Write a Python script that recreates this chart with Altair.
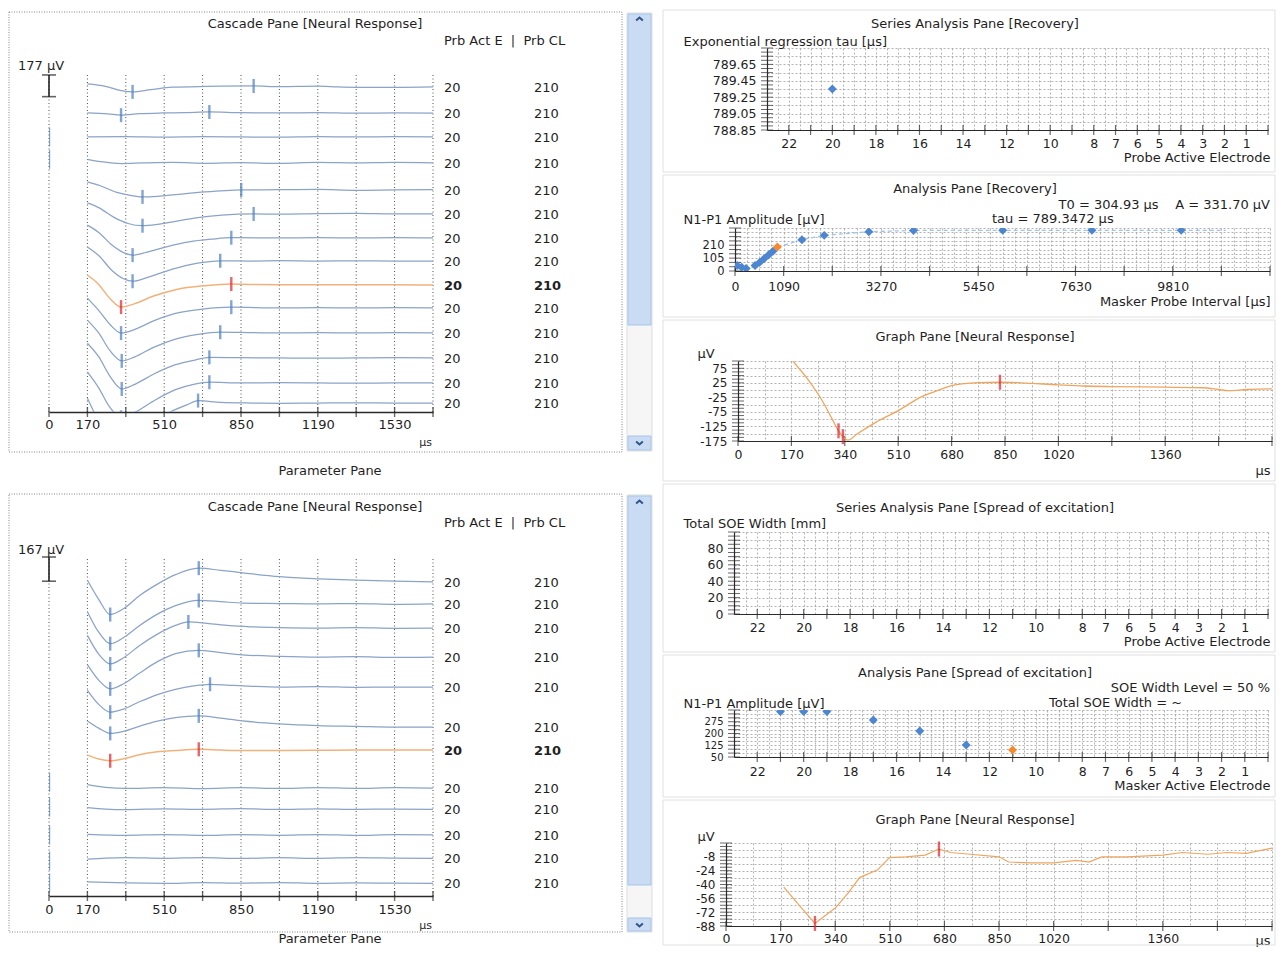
import altair as alt
import pandas as pd

FONT = "DejaVu Sans"
INK = "#1f1f1f"
AXIS = "#2a2a2a"
TRACE = "#8ba3c7"
TRACE_SEL = "#f1b27a"
MARK_BLUE = "#4a7fc2"
MARK_RED = "#e0212a"
PT_BLUE = "#4d86d0"
PT_ORANGE = "#f5892c"
WAVE = "#f0a55e"
GRID_R = "#a0a0a0"
GRID_L = "#4d4d4d"
NB = "\u00a0"

# ======================= DATA =======================
casc_tick_us = [0, 170, 340, 510, 680, 850, 1020, 1190, 1360, 1530, 1700]
casc_label_us = [0, 170, 510, 850, 1190, 1530]

# ---- top cascade pane (recovery series) : knots (time us, amplitude uV) ----
rec_bar_uv = 177
rec_offset_uv = [2652, 2440, 2244, 2032, 1812, 1616, 1420, 1232, 1036, 849, 645, 441, 237, 73]
rec_prb_act_e = [20, 20, 20, 20, 20, 20, 20, 20, 20, 20, 20, 20, 20, 20]
rec_prb_cl = [210, 210, 210, 210, 210, 210, 210, 210, 210, 210, 210, 210, 210, 210]
rec_sel_row = 8
rec_traces = [
    [(170, 25), (250, 5), (320, -30), (370, -40), (450, -22), (546, -2), (700, 4), (906, 8), (1020, 2), (1190, 6), (1280, 0), (1360, -3), (1530, -4), (1700, 0)],
    [(170, 0), (260, -8), (319, -18), (400, -6), (500, 0), (600, 2), (710, 8), (850, 2), (1020, 0), (1190, 3), (1360, -2), (1530, 0), (1700, -2)],
    [(170, 0), (340, 2), (510, -2), (680, 2), (850, 0), (1020, -2), (1190, 2), (1360, 0), (1530, 2), (1700, 0)],
    [(170, 30), (240, 8), (320, -5), (420, 0), (550, 4), (700, -3), (850, 3), (1020, -4), (1190, 4), (1360, 0), (1530, 4), (1700, 0)],
    [(170, 65), (230, 32), (300, -20), (360, -45), (414, -57), (480, -52), (560, -38), (690, -16), (780, -5), (851, 0), (1020, 2), (1190, 5), (1360, -3), (1530, 0), (1700, 2)],
    [(170, 90), (220, 52), (290, -30), (350, -78), (414, -96), (480, -85), (560, -60), (650, -32), (765, -10), (906, 0), (1020, -2), (1190, 2), (1360, 4), (1530, 0), (1700, 0)],
    [(170, 105), (220, 45), (280, -60), (330, -120), (370, -140), (430, -118), (520, -72), (620, -32), (720, -10), (807, 2), (1020, 0), (1190, 3), (1360, 0), (1530, 3), (1700, 0)],
    [(170, 115), (220, 45), (280, -80), (330, -145), (370, -165), (430, -138), (520, -82), (620, -32), (700, -8), (758, 2), (900, 0), (1020, 3), (1190, 0), (1360, 2), (1530, 0), (1700, 0)],
    [(170, 82), (220, 5), (270, -110), (319, -180), (380, -152), (460, -92), (560, -38), (693, -5), (807, 8), (900, 4), (1020, 2), (1190, 3), (1360, 2), (1530, 3), (1700, 0)],
    [(170, 80), (220, -20), (270, -135), (319, -205), (380, -175), (460, -108), (560, -45), (680, -10), (807, 6), (1020, 0), (1190, 2), (1360, 0), (1530, 2), (1700, 0)],
    [(170, 105), (220, 0), (270, -145), (322, -228), (380, -195), (460, -120), (560, -50), (660, -12), (758, 6), (900, 2), (1020, 0), (1190, 3), (1360, 0), (1530, 2), (1700, 0)],
    [(170, 120), (220, 10), (270, -150), (322, -253), (380, -215), (460, -135), (560, -55), (650, -15), (710, 5), (850, 2), (1020, 0), (1190, -2), (1360, 0), (1530, 2), (1700, 0)],
    [(170, 90), (220, -40), (270, -200), (319, -280), (380, -240), (460, -150), (560, -55), (640, -12), (710, 6), (850, 0), (1020, 2), (1190, 0), (1360, -2), (1530, 0), (1700, 0)],
    [(170, 40), (220, -150), (260, -280), (300, -330), (360, -280), (440, -180), (540, -70), (610, -15), (660, 20), (760, 5), (900, 0), (1020, -2), (1190, 0), (1360, 2), (1530, 0), (1700, 0)],
]
rec_peak_us = [[370, 906], [319, 710], [], [], [414, 851], [414, 906], [370, 807], [370, 758],
               [319, 807], [319, 807], [322, 758], [322, 710], [319, 710], [300, 660]]
rec_none_rows = [2, 3]
rec_none_uv = [0, 30]

# ---- bottom cascade pane (spread of excitation series) ----
soe_bar_uv = 167
soe_offset_uv = [2167, 2015, 1849, 1649, 1442, 1166, 1007, 745, 600, 421, 262, 90]
soe_prb_act_e = [20, 20, 20, 20, 20, 20, 20, 20, 20, 20, 20, 20]
soe_prb_cl = [210, 210, 210, 210, 210, 210, 210, 210, 210, 210, 210, 210]
soe_sel_row = 6
soe_traces = [
    [(170, 12), (220, -120), (271, -225), (330, -185), (400, -95), (480, -15), (560, 50), (663, 95), (760, 80), (857, 63), (1020, 36), (1197, 21), (1360, 12), (1530, 5), (1700, 0)],
    [(170, -53), (220, -195), (271, -274), (330, -232), (400, -150), (480, -70), (560, -12), (663, 24), (760, 16), (857, 6), (1020, 3), (1190, 0), (1360, 3), (1530, -3), (1700, 0)],
    [(170, -51), (220, -180), (271, -248), (330, -205), (400, -122), (480, -42), (560, 18), (617, 42), (700, 32), (800, 16), (900, 8), (1020, 3), (1190, 0), (1360, 3), (1530, -2), (1700, 0)],
    [(170, -53), (220, -160), (271, -220), (330, -185), (400, -112), (480, -32), (560, 24), (663, 46), (760, 30), (857, 15), (1020, 5), (1190, 0), (1360, 3), (1530, -3), (1700, 0)],
    [(170, -23), (220, -120), (271, -174), (330, -152), (400, -102), (480, -52), (560, -16), (640, 8), (713, 19), (800, 12), (900, 5), (1020, 0), (1190, 3), (1360, -2), (1530, 0), (1700, 0)],
    [(170, 42), (220, -8), (271, -44), (330, -30), (400, 5), (480, 40), (560, 64), (663, 77), (760, 62), (857, 42), (1020, 22), (1190, 10), (1360, 5), (1530, 0), (1700, 0)],
    [(170, -35), (220, -62), (271, -74), (330, -60), (400, -32), (480, -12), (560, -3), (663, 5), (760, 0), (857, -3), (1020, -3), (1190, -2), (1360, 0), (1530, 0), (1700, 0)],
    [(170, 23), (250, 5), (340, -3), (510, 3), (680, -4), (850, 2), (1020, -3), (1190, 3), (1360, -2), (1530, 2), (1700, 0)],
    [(170, 10), (250, 0), (340, -4), (510, 2), (680, -2), (850, 3), (1020, -3), (1190, 2), (1360, -2), (1530, 0), (1700, -2)],
    [(170, 5), (340, -2), (510, 3), (680, -3), (850, 2), (1020, -2), (1190, 3), (1360, -3), (1530, 2), (1700, 0)],
    [(170, -8), (250, 0), (340, 3), (510, -2), (680, 3), (850, -3), (1020, 2), (1190, -2), (1360, 3), (1530, 0), (1700, -2)],
    [(170, 8), (340, 0), (510, -3), (680, 2), (850, -2), (1020, 3), (1190, -3), (1360, 0), (1530, -2), (1700, -3)],
]
soe_peak_us = [[271, 663], [271, 663], [271, 617], [271, 663], [271, 713], [271, 663], [271, 663], [], [], [], [], []]
soe_none_rows = [7, 8, 9, 10, 11]
soe_none_uv = [40, 14, 0, -20, 0]

# ---- right column ----
elec_labels = [22, 20, 18, 16, 14, 12, 10, 8, 7, 6, 5, 4, 3, 2, 1]
elec_ticks = [0, 1, 2, 3, 4, 5, 6, 7, 8, 9, 10, 11, 12, 13, 14, 15, 16, 17, 18, 19, 20, 21, 22]

tau_probe_e = [20]
tau_us = [789.35]
tau_labels = [788.85, 789.05, 789.25, 789.45, 789.65]

mpi_us = [50, 150, 250, 450, 550, 650, 750, 850, 950, 1500, 2000, 3000, 4000, 6000, 8000, 10000]
mpi_amp_uv = [45, 30, 20, 45, 70, 100, 130, 160, 195, 255, 290, 320, 330, 331, 331, 331]
mpi_selected = 950
fit_us = [950, 1500, 2000, 3000, 4000, 6000, 8000, 10000, 11000]
fit_uv = [195, 255, 290, 320, 330, 331, 331, 331, 331]
mpi_ticks = [0, 1090, 2180, 3270, 4360, 5450, 6540, 7630, 8720, 9810, 10900, 11990]
mpi_labels = [0, 1090, 3270, 5450, 7630, 9810]
amp_labels_rec = [0, 105, 210]

graph_labels_us = [0, 170, 340, 510, 680, 850, 1020, 1360]
nr_rec_wave = [(175, 99), (220, 40), (270, -40), (300, -100), (320, -140), (334, -160), (350, -172), (380, -150),
               (440, -110), (516, -67), (580, -25), (627, -5), (682, 16), (750, 25), (834, 27), (900, 25),
               (1020, 18), (1100, 14), (1190, 12), (1360, 10), (1480, 8), (1530, 2), (1560, -2), (1620, 2), (1700, 4)]
nr_rec_peaks = [320, 334, 834]
nr_rec_labels = [75, 25, -25, -75, -125, -175]

soe_width_labels = [0, 20, 40, 60, 80]

soe_masker_e = [21, 20, 19, 17, 15, 13, 11]
soe_amp_uv = [340, 340, 340, 286, 216, 126, 95]
soe_selected_e = 11
soe_amp_labels = [50, 125, 200, 275]

nr_soe_wave = [(180, -43), (230, -65), (277, -85), (295, -80), (341, -67), (380, -50), (416, -32), (472, -23),
               (509, -9), (560, -8), (620, -6), (663, 1), (700, -3), (760, -5), (850, -8), (880, -14), (950, -15),
               (1020, -15), (1090, -12), (1130, -14), (1170, -8), (1250, -8), (1360, -6), (1420, -3), (1500, -5),
               (1560, -3), (1620, -4), (1700, 2)]
nr_soe_peaks = [277, 663]
nr_soe_labels = [-8, -24, -40, -56, -72, -88]

ONE = pd.DataFrame({"k": [0]})
U = alt.Undefined


def lab_expr(labels, fmt):
    arr = "[" + ",".join(str(v) for v in labels) + "]"
    return ("indexof(%s, round(datum.value*1000)/1000) >= 0 ? replace(format(datum.value, '%s'), '\u2212', '-') : ''"
            % (arr, fmt))


class Pane:
    def __init__(self, px0, py0, W, H, xdom, ydom, hide_y=False):
        self.px0, self.py0, self.W, self.H = px0, py0, W, H
        self.xdom, self.ydom = xdom, ydom
        self.xs = alt.Scale(domain=list(xdom), nice=False, zero=False)
        self.ys = alt.Scale(domain=list(ydom), nice=False, zero=False)
        self.yax = None if hide_y else U
        self.layers = []

    def add(self, ch):
        self.layers.append(ch)

    def X(self, f, axis=U):
        return alt.X(f, type="quantitative", scale=self.xs, axis=axis)

    def Y(self, f, axis=U):
        if axis is U:
            axis = self.yax
        return alt.Y(f, type="quantitative", scale=self.ys, axis=axis)

    def XD(self, v):
        return alt.XDatum(v, type="quantitative", scale=self.xs)

    def YD(self, v):
        return alt.YDatum(v, type="quantitative", scale=self.ys, axis=self.yax)

    def rect(self, x0, y0, x1, y1, **mk):
        self.add(alt.Chart(ONE).mark_rect(**mk).encode(
            x=alt.value(x0 - self.px0), x2=alt.value(x1 - self.px0),
            y=alt.value(y0 - self.py0), y2=alt.value(y1 - self.py0)))

    def text(self, s, x, y, align="center", size=12.5, weight="normal"):
        self.add(alt.Chart(ONE).mark_text(
            text=s, align=align, baseline="middle", font=FONT, fontSize=size,
            fontWeight=weight, color=INK).encode(
            x=alt.value(x - self.px0), y=alt.value(y - self.py0)))

    def chevron(self, x, y, up):
        shape = "M-1,0.45L0,-0.45L1,0.45" if up else "M-1,-0.45L0,0.45L1,-0.45"
        self.add(alt.Chart(ONE).mark_point(
            shape=shape, filled=False, size=45, strokeWidth=2, color="#2f5486", opacity=1).encode(
            x=alt.value(x - self.px0), y=alt.value(y - self.py0)))

    def chart(self):
        return alt.layer(*self.layers).properties(width=self.W, height=self.H)


def cascade(py0, plot_bottom, uv_per_px, grid_top_y, cell, frame, track, thumb, down_btn,
            chev_up, chev_down, title_y, head_y, param_y, xlab_pad, xtitle_y, bar_dy,
            offsets, traces, peaks, none_rows, none_uv, sel, bar_uv, prb_e, prb_cl):
    px0, W = 49, 384
    H = plot_bottom - py0
    ytop = round(H * uv_per_px)
    grid_top = round((plot_bottom - grid_top_y) * uv_per_px)
    P = Pane(px0, py0, W, H, [0, 1700], [0, ytop], hide_y=True)
    P.rect(cell[0], cell[1], cell[2], cell[3], fillOpacity=0, strokeOpacity=0)
    P.rect(*frame, filled=False, color="#858585", strokeDash=[1, 1.5], strokeWidth=1)
    P.rect(*track, fill="#f6f6f6", stroke="#dddddd", strokeWidth=1)
    P.rect(*thumb, fill="#cadcf4", stroke="#a7c3e8", strokeWidth=1)
    P.rect(*down_btn, fill="#cadcf4", stroke="#a7c3e8", strokeWidth=1)
    P.chevron(chev_up[0], chev_up[1], True)
    P.chevron(chev_down[0], chev_down[1], False)
    P.text("Cascade Pane [Neural Response]", 315, title_y, size=13)
    P.text("Prb Act E" + NB * 2 + "|" + NB * 2 + "Prb CL", 444, head_y, align="left", size=13)
    P.text("Parameter Pane", 330, param_y, size=13)

    tick_df = pd.DataFrame({"t": casc_tick_us})
    # dotted vertical grid
    P.add(alt.Chart(tick_df).mark_rule(color=GRID_L, strokeDash=[1, 2.5], strokeWidth=1).encode(
        x=P.X("t"), y=P.YD(0), y2=alt.Y2Datum(grid_top)))
    xaxis = alt.Axis(values=casc_tick_us, tickCount=1000, labelExpr=lab_expr(casc_label_us, "d"), grid=False,
                     ticks=False, domain=True, domainColor=AXIS, domainWidth=1.4,
                     labelPadding=xlab_pad, labelFontSize=13, labelFlush=False, labelOverlap=False,
                     title="µs", titleX=376, titleY=xtitle_y - plot_bottom, titleAlign="center",
                     titleBaseline="middle", titleFontSize=11, titleFontWeight="normal")
    P.add(alt.Chart(tick_df).mark_tick(orient="vertical", size=10, thickness=1.4, color=AXIS).encode(
        x=P.X("t", xaxis), y=P.YD(0)))

    rows = []
    for i, (off, tr) in enumerate(zip(offsets, traces)):
        for t, v in tr:
            rows.append({"row": i, "t": t, "y": off + v})
    df = pd.DataFrame(rows)
    for part, col, sw in [(df[df.row != sel], TRACE, 1.25), (df[df.row == sel], TRACE_SEL, 1.5)]:
        P.add(alt.Chart(part).mark_line(clip=True, interpolate="monotone", strokeWidth=sw, color=col).encode(
            x=P.X("t"), y=P.Y("y"), detail="row:N"))

    mk = []
    for i, ts in enumerate(peaks):
        d = dict(traces[i])
        for t in ts:
            mk.append({"t": t, "y": offsets[i] + d[t], "c": MARK_RED if i == sel else MARK_BLUE})
    P.add(alt.Chart(pd.DataFrame(mk)).mark_tick(orient="vertical", size=14, thickness=2.4, clip=True).encode(
        x=P.X("t"), y=P.Y("y"), color=alt.Color("c:N", scale=None)))
    nm = pd.DataFrame({"t": [0] * len(none_rows),
                       "y": [offsets[r] + v for r, v in zip(none_rows, none_uv)]})
    P.add(alt.Chart(nm).mark_tick(orient="vertical", size=19, thickness=2.4, color=MARK_BLUE, clip=True).encode(
        x=P.X("t"), y=P.Y("y")))

    # scale bar
    P.add(alt.Chart(ONE).mark_rule(color="#222222", strokeWidth=1.6).encode(
        x=P.XD(0), y=P.YD(grid_top), y2=alt.Y2Datum(grid_top - bar_uv)))
    caps = pd.DataFrame({"y": [grid_top, grid_top - bar_uv]})
    P.add(alt.Chart(caps).mark_tick(orient="horizontal", size=14, thickness=1.6, color="#222222").encode(
        x=P.XD(0), y=P.Y("y")))
    P.add(alt.Chart(ONE).mark_text(text="%d%sµV" % (bar_uv, NB), align="left", baseline="middle", dx=-31,
                                   dy=bar_dy, font=FONT, fontSize=13, color=INK).encode(
        x=P.XD(0), y=P.YD(grid_top)))

    lab = pd.DataFrame({"y": offsets, "e": [str(v) for v in prb_e], "cl": [str(v) for v in prb_cl],
                        "sel": [i == sel for i in range(len(offsets))]})
    for part, wt in [(lab[~lab.sel], "normal"), (lab[lab.sel], "bold")]:
        for fld, dx in [("e", 11), ("cl", 101)]:
            P.add(alt.Chart(part).mark_text(align="left", baseline="middle", dx=dx, dy=1, font=FONT,
                                            fontSize=13, fontWeight=wt, color=INK).encode(
                x=P.XD(1700), y=P.Y("y"), text=alt.Text(fld + ":N")))
    return P.chart()


LT = cascade(py0=48, plot_bottom=412, uv_per_px=8.16, grid_top_y=75,
             cell=(8, 8, 659, 482), frame=(9, 12, 622, 452), track=(627, 13, 652, 451),
             thumb=(628, 14, 651, 325), down_btn=(628, 436, 651, 450), chev_up=(639.5, 19),
             chev_down=(639.5, 443), title_y=24, head_y=41, param_y=471, xlab_pad=6, xtitle_y=442,
             bar_dy=-9, offsets=rec_offset_uv, traces=rec_traces, peaks=rec_peak_us,
             none_rows=rec_none_rows, none_uv=rec_none_uv, sel=rec_sel_row, bar_uv=rec_bar_uv,
             prb_e=rec_prb_act_e, prb_cl=rec_prb_cl)

LB = cascade(py0=557, plot_bottom=896, uv_per_px=6.9, grid_top_y=557,
             cell=(8, 482, 659, 946), frame=(9, 494, 622, 932), track=(627, 495, 652, 932),
             thumb=(628, 496, 651, 885), down_btn=(628, 918, 651, 931), chev_up=(639.5, 502),
             chev_down=(639.5, 925), title_y=507, head_y=523, param_y=939, xlab_pad=7, xtitle_y=925,
             bar_dy=-7, offsets=soe_offset_uv, traces=soe_traces, peaks=soe_peak_us,
             none_rows=soe_none_rows, none_uv=soe_none_uv, sel=soe_sel_row, bar_uv=soe_bar_uv,
             prb_e=soe_prb_act_e, prb_cl=soe_prb_cl)


def right(px0, py0, W, H, xdom, ydom, cy0, cy1, xgrid, xlabels, xfmt, xcross,
          ygrid, ylabels, yfmt, ycross, title, title_y, ytitle, ytitle_x, ytitle_y,
          xtitle, xtitle_y, xlab_pad, notes=(), ylab_size=12.5):
    P = Pane(px0, py0, W, H, xdom, ydom)
    P.rect(660, cy0, 1276, cy1, fillOpacity=0, strokeOpacity=0)
    P.rect(663, cy0 + 2, 1275, cy1 - 1, filled=False, color="#e0e0e0", strokeWidth=1)
    P.text(title, 975, title_y, size=13)
    for s, x, y, a in notes:
        P.text(s, x, y, align=a, size=13)
    xaxis = alt.Axis(values=xgrid, tickCount=1000, labelExpr=lab_expr(xlabels, xfmt), grid=True,
                     gridColor=GRID_R, gridDash=[2, 2], gridWidth=0.8, ticks=False, domain=True,
                     domainColor=AXIS, domainWidth=1.2, labelPadding=xlab_pad, labelFlush=False,
                     labelOverlap=False, labelFontSize=12.5,
                     title=xtitle, titleX=1270 - px0, titleY=xtitle_y - (py0 + H), titleAlign="right",
                     titleBaseline="middle", titleAngle=0, titleFontSize=13)
    yaxis = alt.Axis(values=ygrid, tickCount=1000, labelExpr=lab_expr(ylabels, yfmt), grid=True,
                     gridColor=GRID_R, gridDash=[2, 2], gridWidth=0.8, ticks=False, domain=True,
                     domainColor=AXIS, domainWidth=1.2, labelPadding=11, labelFlush=False,
                     labelOverlap=False, labelFontSize=ylab_size,
                     title=ytitle, titleX=ytitle_x - px0, titleY=ytitle_y - py0, titleAngle=0,
                     titleAlign="left", titleBaseline="middle", titleFontSize=13)
    P.add(alt.Chart(pd.DataFrame({"v": xcross})).mark_tick(orient="vertical", size=10, thickness=1.2,
                                                          color=AXIS).encode(
        x=P.X("v", xaxis), y=P.YD(ydom[0])))
    P.add(alt.Chart(pd.DataFrame({"v": ycross})).mark_tick(orient="horizontal", size=12, thickness=1,
                                                          color=AXIS).encode(
        x=P.XD(xdom[0]), y=P.Y("v", yaxis)))
    return P


half_elec = [i * 0.5 for i in range(47)]

# R1 : Series analysis (recovery)
R1 = right(767, 48, 501, 82, [23, 0], [788.85, 789.85], 8, 173,
           half_elec, elec_labels, "d", elec_ticks,
           [round(788.85 + 0.1 * i, 2) for i in range(11)], tau_labels, ".2f",
           [round(788.85 + 0.05 * i, 2) for i in range(21)],
           "Series Analysis Pane [Recovery]", 24, "Exponential regression tau [µs]", 683, 41,
           "Probe Active Electrode", 157, 7)
R1.add(alt.Chart(pd.DataFrame({"e": tau_probe_e, "tau": tau_us})).mark_point(
    shape="diamond", filled=True, size=80, color=PT_BLUE, opacity=1).encode(x=R1.X("e"), y=R1.Y("tau")))

# R2 : Analysis pane (recovery)
R2 = right(735, 228, 535, 43, [0, 11990], [0, 350], 173, 318,
           [i * 272.5 for i in range(45)], mpi_labels, "d", mpi_ticks,
           [i * 35 for i in range(11)], amp_labels_rec, "d", [i * 35 for i in range(11)],
           "Analysis Pane [Recovery]", 189, "N1-P1 Amplitude [µV]", 683, 219,
           "Masker Probe Interval [µs]", 301, 9,
           notes=[("T0 = 304.93 µs" + NB * 4 + "A = 331.70 µV", 1270, 205, "right"),
                  ("tau = 789.3472 µs", 992, 219, "left")], ylab_size=11.5)
R2.add(alt.Chart(pd.DataFrame({"t": fit_us, "a": fit_uv})).mark_line(
    strokeDash=[4, 3], color="#9fc2ec", strokeWidth=1.3).encode(x=R2.X("t"), y=R2.Y("a")))
mpi_df = pd.DataFrame({"t": mpi_us, "a": mpi_amp_uv})
R2.add(alt.Chart(mpi_df[mpi_df.t != mpi_selected]).mark_point(
    shape="diamond", filled=True, size=80, color=PT_BLUE, opacity=1, clip=True).encode(
    x=R2.X("t"), y=R2.Y("a")))
R2.add(alt.Chart(mpi_df[mpi_df.t == mpi_selected]).mark_point(
    shape="diamond", filled=True, size=80, color=PT_ORANGE, opacity=1, clip=True).encode(
    x=R2.X("t"), y=R2.Y("a")))

# R3 : Graph pane (recovery selected trace)
R3 = right(738, 361, 534, 80, [0, 1700], [-175, 100], 318, 482,
           [i * 85 for i in range(21)], graph_labels_us, "d", casc_tick_us,
           [-175 + 25 * i for i in range(12)], nr_rec_labels, "d", [-175 + 12.5 * i for i in range(23)],
           "Graph Pane [Neural Response]", 337, "µV", 697, 353, "µs", 470, 7, ylab_size=12)
R3.add(alt.Chart(pd.DataFrame(nr_rec_wave, columns=["t", "v"])).mark_line(
    color=WAVE, strokeWidth=1.3, interpolate="monotone", clip=True).encode(x=R3.X("t"), y=R3.Y("v")))
d3 = dict(nr_rec_wave)
R3.add(alt.Chart(pd.DataFrame({"t": nr_rec_peaks, "v": [d3[t] for t in nr_rec_peaks]})).mark_tick(
    orient="vertical", size=15, thickness=2.4, color=MARK_RED).encode(x=R3.X("t"), y=R3.Y("v")))

# R4 : Series analysis (SOE)
R4 = right(734, 532, 534, 82, [23, 0], [0, 100], 482, 653,
           half_elec, elec_labels, "d", elec_ticks,
           [10 * i for i in range(11)], soe_width_labels, "d", [5 * i for i in range(21)],
           "Series Analysis Pane [Spread of excitation]", 508, "Total SOE Width [mm]", 683, 523,
           "Probe Active Electrode", 641, 7)

# R5 : Analysis pane (SOE)
R5 = right(734, 710, 534, 47, [23, 0], [50, 350], 653, 798,
           half_elec, elec_labels, "d", elec_ticks,
           [50 + 25 * i for i in range(13)], soe_amp_labels, "d", [50 + 25 * i for i in range(13)],
           "Analysis Pane [Spread of excitation]", 673, "N1-P1 Amplitude [µV]", 683, 703,
           "Masker Active Electrode", 785, 8,
           notes=[("SOE Width Level = 50 %", 1270, 688, "right"),
                  ("Total SOE Width = ~", 1049, 703, "left")], ylab_size=10)
soe_df = pd.DataFrame({"e": soe_masker_e, "a": soe_amp_uv})
R5.add(alt.Chart(soe_df[soe_df.e != soe_selected_e]).mark_point(
    shape="diamond", filled=True, size=80, color=PT_BLUE, opacity=1, clip=True).encode(
    x=R5.X("e"), y=R5.Y("a")))
R5.add(alt.Chart(soe_df[soe_df.e == soe_selected_e]).mark_point(
    shape="diamond", filled=True, size=80, color=PT_ORANGE, opacity=1, clip=True).encode(
    x=R5.X("e"), y=R5.Y("a")))

# R6 : Graph pane (SOE selected trace)
R6 = right(726, 843, 546, 83, [0, 1700], [-88, 8], 798, 946,
           [i * 85 for i in range(21)], graph_labels_us, "d", casc_tick_us,
           [-88 + 8 * i for i in range(13)], nr_soe_labels, "d", [-88 + 4 * i for i in range(25)],
           "Graph Pane [Neural Response]", 820, "µV", 697, 836, "µs", 940, 6, ylab_size=12)
R6.add(alt.Chart(pd.DataFrame(nr_soe_wave, columns=["t", "v"])).mark_line(
    color=WAVE, strokeWidth=1.2, clip=True).encode(x=R6.X("t"), y=R6.Y("v")))
d6 = dict(nr_soe_wave)
R6.add(alt.Chart(pd.DataFrame({"t": nr_soe_peaks, "v": [d6[t] for t in nr_soe_peaks]})).mark_tick(
    orient="vertical", size=15, thickness=2.4, color=MARK_RED).encode(x=R6.X("t"), y=R6.Y("v")))

spacer = alt.Chart(ONE).mark_rect(opacity=0).encode(
    x=alt.value(0), x2=alt.value(1), y=alt.value(0), y2=alt.value(1)).properties(width=1, height=1)

left_col = alt.vconcat(LT, LB, spacing=0)
right_col = alt.vconcat(*[alt.hconcat(spacer, R.chart(), spacing=0) for R in [R1, R2, R3, R4, R5, R6]],
                        spacing=0)

chart = alt.hconcat(left_col, right_col, spacing=0).properties(padding=0).configure_view(
    stroke=None).configure_axis(
    labelFont=FONT, titleFont=FONT, labelColor=INK, titleColor=INK, labelFontSize=12,
    titleFontSize=12, titleFontWeight="normal")

chart.save("out.html", embed_options={"renderer": "svg", "actions": False})
